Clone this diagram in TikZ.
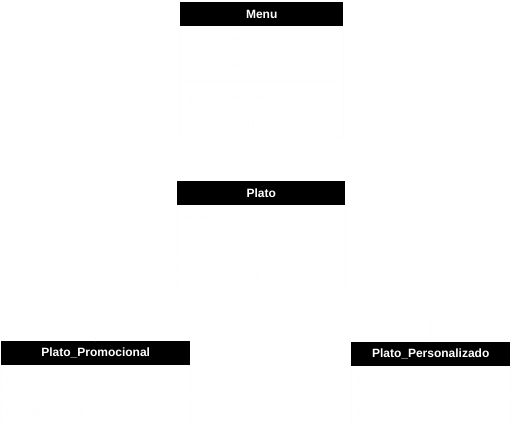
\documentclass[tikz,border=0pt]{standalone}
\usepackage{fontspec}
\setmainfont{Liberation Sans}
\usetikzlibrary{arrows.meta}
\definecolor{faintline}{RGB}{253, 253, 253}
\definecolor{fainttext}{RGB}{253, 253, 253}
\tikzset{%
    header/.style={%
        fill=black, text=white, inner sep=0pt, anchor=north west,
        font=\fontsize{12}{14}\selectfont\bfseries
    },
    classbody/.style={%
        draw=faintline, line width=0.75pt, inner sep=0pt, anchor=north
    },
    member/.style={%
        text=fainttext, inner sep=0pt, anchor=west,
        font=\fontsize{11}{13}\selectfont
    },
    inherit/.style={%
        draw=faintline, line width=0.75pt, -{Triangle[open, length=10pt, width=10pt]}
    }
}

\begin{document}
\begin{tikzpicture}[x=1pt, y=-1pt]

    \useasboundingbox (0, 0) rectangle (511, 430);

    \node[header, minimum width=163pt, minimum height=24pt] (menu) at (180, 2) {Menu};
    \node[classbody, minimum width=163pt, minimum height=111pt] (menubody) at (menu.south) {};
    \draw[faintline, line width=0.75pt] (180, 80) -- (343, 80);
    \node[member] (menuA) at (186, 39) {Platos: Plato[]};
    \node[member] (menuB) at (186, 65) {PrecioTotal};
    \node[member] (menuC) at (186, 99) {agregarPlato(Plato)};
    \node[member] (menuD) at (186, 124) {calcularTotal()};

    \node[header, minimum width=168pt, minimum height=24pt] (plato) at (177, 181) {Plato};
    \node[classbody, minimum width=168pt, minimum height=87pt] (platobody) at (plato.south) {};
    \draw[faintline, line width=0.75pt] (177, 261) -- (345, 261);
    \node[member] (platoA) at (183, 218) {Nombre};
    \node[member] (platoB) at (183, 244) {Precio};
    \node[member] (platoC) at (183, 276) {calcularPrecio()};

    \node[header, minimum width=189pt, minimum height=24pt] (promo) at (1, 341) {Plato\_Promocional};
    \node[classbody, minimum width=189pt, minimum height=63pt] (promobody) at (promo.south) {};
    \draw[faintline, line width=0.75pt] (1, 396) -- (190, 396);
    \node[member] (promoA) at (6, 380) {Descuento};
    \node[member] (promoB) at (6, 413) {calcularPrecio()};

    \node[header, minimum width=159pt, minimum height=24pt] (perso) at (351, 342) {Plato\_Personalizado};
    \node[classbody, minimum width=159pt, minimum height=62pt] (persobody) at (perso.south) {};
    \draw[faintline, line width=0.75pt] (351, 396) -- (510, 396);
    \node[member] (persoA) at (356, 378) {Extras};
    \node[member] (persoB) at (356, 413) {calcularPrecio()};

    \coordinate (split) at (261, 316);
    \draw[faintline, line width=0.75pt] (perso.north) |- (split);
    \draw[inherit] (promo.north) |- (split) -- (platobody.south);

\end{tikzpicture}
\end{document}
